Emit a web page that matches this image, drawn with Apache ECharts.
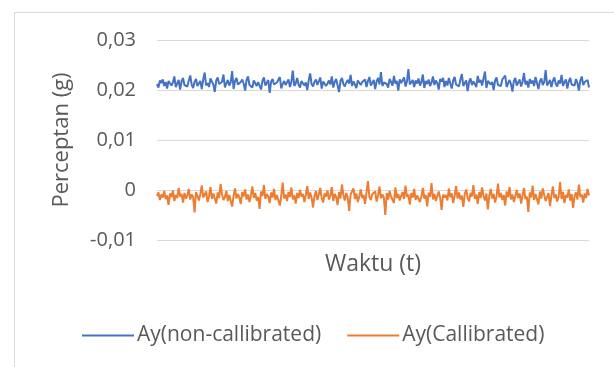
<!DOCTYPE html>
<html>
<head>
<meta charset="utf-8">
<script src="https://cdn.jsdelivr.net/npm/echarts@6/dist/echarts.min.js"></script>
<style>
html,body{margin:0;padding:0;background:#fff;}
#c{width:614px;height:367px;}
</style>
</head>
<body>
<div id="c"></div>
<script>
const seriesNames = ['Ay(non-callibrated)', 'Ay(Callibrated)'];
const yTicks = [-0.01, 0, 0.01, 0.02, 0.03];
const ayNonCalibrated = [
0.0212,0.0205,0.0219,0.0214,0.0221,0.0208,0.0216,0.0203,0.0218,0.0222,
0.0209,0.0215,0.0227,0.0206,0.0213,0.0220,0.0201,0.0217,0.0224,0.0210,
0.0214,0.0207,0.0219,0.0229,0.0211,0.0204,0.0216,0.0222,0.0208,0.0213,
0.0218,0.0202,0.0221,0.0235,0.0209,0.0214,0.0206,0.0223,0.0217,0.0211,
0.0196,0.0219,0.0225,0.0212,0.0208,0.0216,0.0231,0.0205,0.0213,0.0220,
0.0209,0.0215,0.0238,0.0202,0.0218,0.0224,0.0211,0.0207,0.0216,0.0221,
0.0213,0.0199,0.0220,0.0227,0.0210,0.0214,0.0205,0.0219,0.0223,0.0208,
0.0216,0.0212,0.0201,0.0218,0.0225,0.0209,0.0213,0.0220,0.0194,0.0217,
0.0222,0.0211,0.0207,0.0215,0.0219,0.0226,0.0203,0.0212,0.0218,0.0210,
0.0214,0.0221,0.0206,0.0216,0.0239,0.0208,0.0213,0.0224,0.0211,0.0205,
0.0218,0.0222,0.0209,0.0215,0.0200,0.0219,0.0233,0.0212,0.0207,0.0216,
0.0221,0.0210,0.0214,0.0225,0.0203,0.0217,0.0220,0.0208,0.0213,0.0219,
0.0211,0.0227,0.0205,0.0216,0.0222,0.0209,0.0196,0.0218,0.0224,0.0212,
0.0207,0.0215,0.0220,0.0213,0.0230,0.0208,0.0217,0.0211,0.0204,0.0219,
0.0223,0.0210,0.0216,0.0214,0.0221,0.0206,0.0218,0.0226,0.0209,0.0213,
0.0220,0.0202,0.0217,0.0224,0.0211,0.0236,0.0208,0.0215,0.0219,0.0212,
0.0205,0.0222,0.0216,0.0209,0.0228,0.0213,0.0218,0.0199,0.0221,0.0214,
0.0210,0.0225,0.0207,0.0217,0.0242,0.0211,0.0215,0.0220,0.0206,0.0219,
0.0213,0.0223,0.0209,0.0216,0.0231,0.0204,0.0218,0.0212,0.0221,0.0208,
0.0215,0.0227,0.0210,0.0219,0.0214,0.0201,0.0222,0.0217,0.0224,0.0206,
0.0218,0.0209,0.0224,0.0213,0.0203,0.0219,0.0226,0.0211,0.0215,0.0207,
0.0221,0.0232,0.0208,0.0214,0.0219,0.0198,0.0216,0.0223,0.0210,0.0217,
0.0212,0.0206,0.0228,0.0215,0.0220,0.0209,0.0213,0.0237,0.0204,0.0218,
0.0222,0.0211,0.0216,0.0200,0.0219,0.0225,0.0210,0.0214,0.0208,0.0221,
0.0217,0.0229,0.0206,0.0213,0.0220,0.0212,0.0197,0.0218,0.0224,0.0209,
0.0215,0.0221,0.0207,0.0216,0.0234,0.0211,0.0218,0.0205,0.0222,0.0213,
0.0219,0.0208,0.0226,0.0214,0.0202,0.0217,0.0223,0.0210,0.0216,0.0240,
0.0209,0.0214,0.0220,0.0206,0.0218,0.0225,0.0212,0.0207,0.0219,0.0213,
0.0230,0.0208,0.0216,0.0221,0.0203,0.0217,0.0224,0.0211,0.0215,0.0209,
0.0222,0.0214,0.0199,0.0219,0.0227,0.0210,0.0216,0.0212,0.0220,0.0205
];
const ayCalibrated = [
-0.0012,-0.0005,-0.0020,-0.0009,-0.0015,-0.0002,-0.0018,-0.0011,-0.0030,-0.0007,
-0.0014,-0.0001,-0.0022,-0.0010,-0.0016,0.0004,-0.0013,-0.0008,-0.0025,-0.0006,
-0.0017,-0.0011,0.0002,-0.0019,-0.0009,-0.0014,-0.0045,-0.0004,-0.0012,-0.0021,
-0.0008,0.0009,-0.0015,-0.0010,-0.0003,-0.0024,-0.0013,0.0006,-0.0018,-0.0007,
-0.0011,-0.0027,-0.0005,-0.0016,0.0012,-0.0009,-0.0020,-0.0014,-0.0002,-0.0022,
-0.0010,-0.0006,-0.0033,-0.0012,0.0003,-0.0017,-0.0008,-0.0015,-0.0028,-0.0004,
-0.0013,0.0001,-0.0019,-0.0009,-0.0024,-0.0011,0.0007,-0.0016,-0.0006,-0.0021,
-0.0014,-0.0038,-0.0003,-0.0012,0.0010,-0.0018,-0.0008,-0.0013,-0.0026,-0.0005,
-0.0015,0.0002,-0.0020,-0.0010,-0.0007,-0.0031,-0.0012,0.0015,-0.0017,-0.0009,
-0.0022,-0.0004,-0.0014,0.0005,-0.0019,-0.0011,-0.0027,-0.0006,-0.0016,0.0000,
-0.0013,-0.0008,-0.0024,-0.0010,0.0008,-0.0018,-0.0005,-0.0015,-0.0035,-0.0012,
-0.0002,-0.0020,-0.0009,0.0004,-0.0016,-0.0025,-0.0007,-0.0013,-0.0001,-0.0019,
-0.0011,0.0006,-0.0022,-0.0008,-0.0014,-0.0030,-0.0004,-0.0017,0.0011,-0.0010,
-0.0021,-0.0006,-0.0015,-0.0042,-0.0009,-0.0012,0.0003,-0.0018,-0.0007,-0.0024,
-0.0013,0.0001,-0.0016,-0.0010,-0.0028,-0.0005,0.0018,-0.0014,-0.0020,-0.0008,
-0.0012,-0.0003,-0.0023,-0.0011,0.0007,-0.0017,-0.0009,-0.0015,-0.0050,-0.0006,
-0.0019,-0.0002,-0.0013,-0.0010,-0.0026,0.0005,-0.0016,-0.0008,-0.0021,-0.0012,
-0.0004,-0.0018,0.0009,-0.0014,-0.0009,-0.0029,-0.0006,-0.0015,0.0002,-0.0020,
-0.0011,-0.0007,-0.0024,-0.0013,0.0004,-0.0017,-0.0010,-0.0033,-0.0005,-0.0014,
0.0014,-0.0019,-0.0008,-0.0022,-0.0012,-0.0003,-0.0016,-0.0040,-0.0009,-0.0015,
-0.0010,-0.0021,0.0003,-0.0014,-0.0007,-0.0026,-0.0012,0.0008,-0.0017,-0.0005,
-0.0019,-0.0011,-0.0034,-0.0008,0.0001,-0.0015,-0.0023,-0.0006,-0.0013,0.0010,
-0.0018,-0.0009,-0.0028,-0.0004,-0.0016,0.0005,-0.0012,-0.0021,-0.0007,-0.0039,
-0.0011,0.0002,-0.0017,-0.0008,-0.0025,-0.0013,0.0013,-0.0015,-0.0006,-0.0020,
-0.0010,-0.0031,-0.0003,-0.0014,0.0006,-0.0019,-0.0009,-0.0024,-0.0012,0.0000,
-0.0016,-0.0007,-0.0027,-0.0011,0.0004,-0.0018,-0.0013,-0.0044,-0.0005,-0.0015,
0.0009,-0.0020,-0.0008,-0.0012,-0.0029,-0.0003,-0.0017,0.0003,-0.0010,-0.0022,
-0.0014,-0.0006,-0.0032,-0.0011,0.0007,-0.0016,-0.0009,-0.0023,-0.0013,0.0016,
-0.0018,-0.0004,-0.0026,-0.0010,-0.0015,0.0001,-0.0021,-0.0008,-0.0036,-0.0012,
-0.0005,-0.0019,0.0011,-0.0014,-0.0009,-0.0025,-0.0007,-0.0016,0.0002,-0.0011
];
const categories = ayNonCalibrated.map((_, i) => i + 1);

const FONT = 'Open Sans';
const chart = echarts.init(document.getElementById('c'), null, {renderer: 'canvas'});
chart.setOption({
  animation: false,
  backgroundColor: '#fff',
  graphic: [{
    type: 'rect', left: 12, top: 10, shape: {width: 620, height: 380},
    style: {fill: 'none', stroke: '#d9d9d9', lineWidth: 1}, silent: true
  }],
  grid: {left: 157, right: 25, top: 40, bottom: 127, containLabel: false},
  legend: {
    data: seriesNames,
    left: 77, top: 320,
    icon: 'rect', itemWidth: 52, itemHeight: 2, itemGap: 26,
    textStyle: {color: '#595959', fontSize: 21, fontFamily: FONT, padding: [0, 0, 0, -2]}
  },
  xAxis: {
    type: 'category', data: categories, boundaryGap: false,
    axisLine: {show: false}, axisTick: {show: false}, axisLabel: {show: false},
    splitLine: {show: false},
    name: 'Waktu (t)', nameLocation: 'middle', nameGap: 13,
    nameTextStyle: {color: '#595959', fontSize: 23, fontFamily: FONT}
  },
  yAxis: {
    type: 'value', min: yTicks[0], max: yTicks[yTicks.length - 1], interval: 0.01,
    axisLine: {show: false}, axisTick: {show: false},
    axisLabel: {
      color: '#595959', fontSize: 20, fontFamily: FONT, margin: 21,
      formatter: v => Math.abs(v) < 1e-9 ? '0' : v.toFixed(2).replace('.', ',')
    },
    splitLine: {lineStyle: {color: '#d9d9d9', width: 1}},
    name: 'Perceptan (g)', nameLocation: 'middle', nameGap: 84,
    nameTextStyle: {color: '#595959', fontSize: 22, fontFamily: FONT}
  },
  series: [
    {name: seriesNames[0], type: 'line', data: ayNonCalibrated, showSymbol: false,
     lineStyle: {color: '#4472C4', width: 2}, itemStyle: {color: '#4472C4'}},
    {name: seriesNames[1], type: 'line', data: ayCalibrated, showSymbol: false,
     lineStyle: {color: '#ED7D31', width: 2}, itemStyle: {color: '#ED7D31'}}
  ]
});
</script>
</body>
</html>
